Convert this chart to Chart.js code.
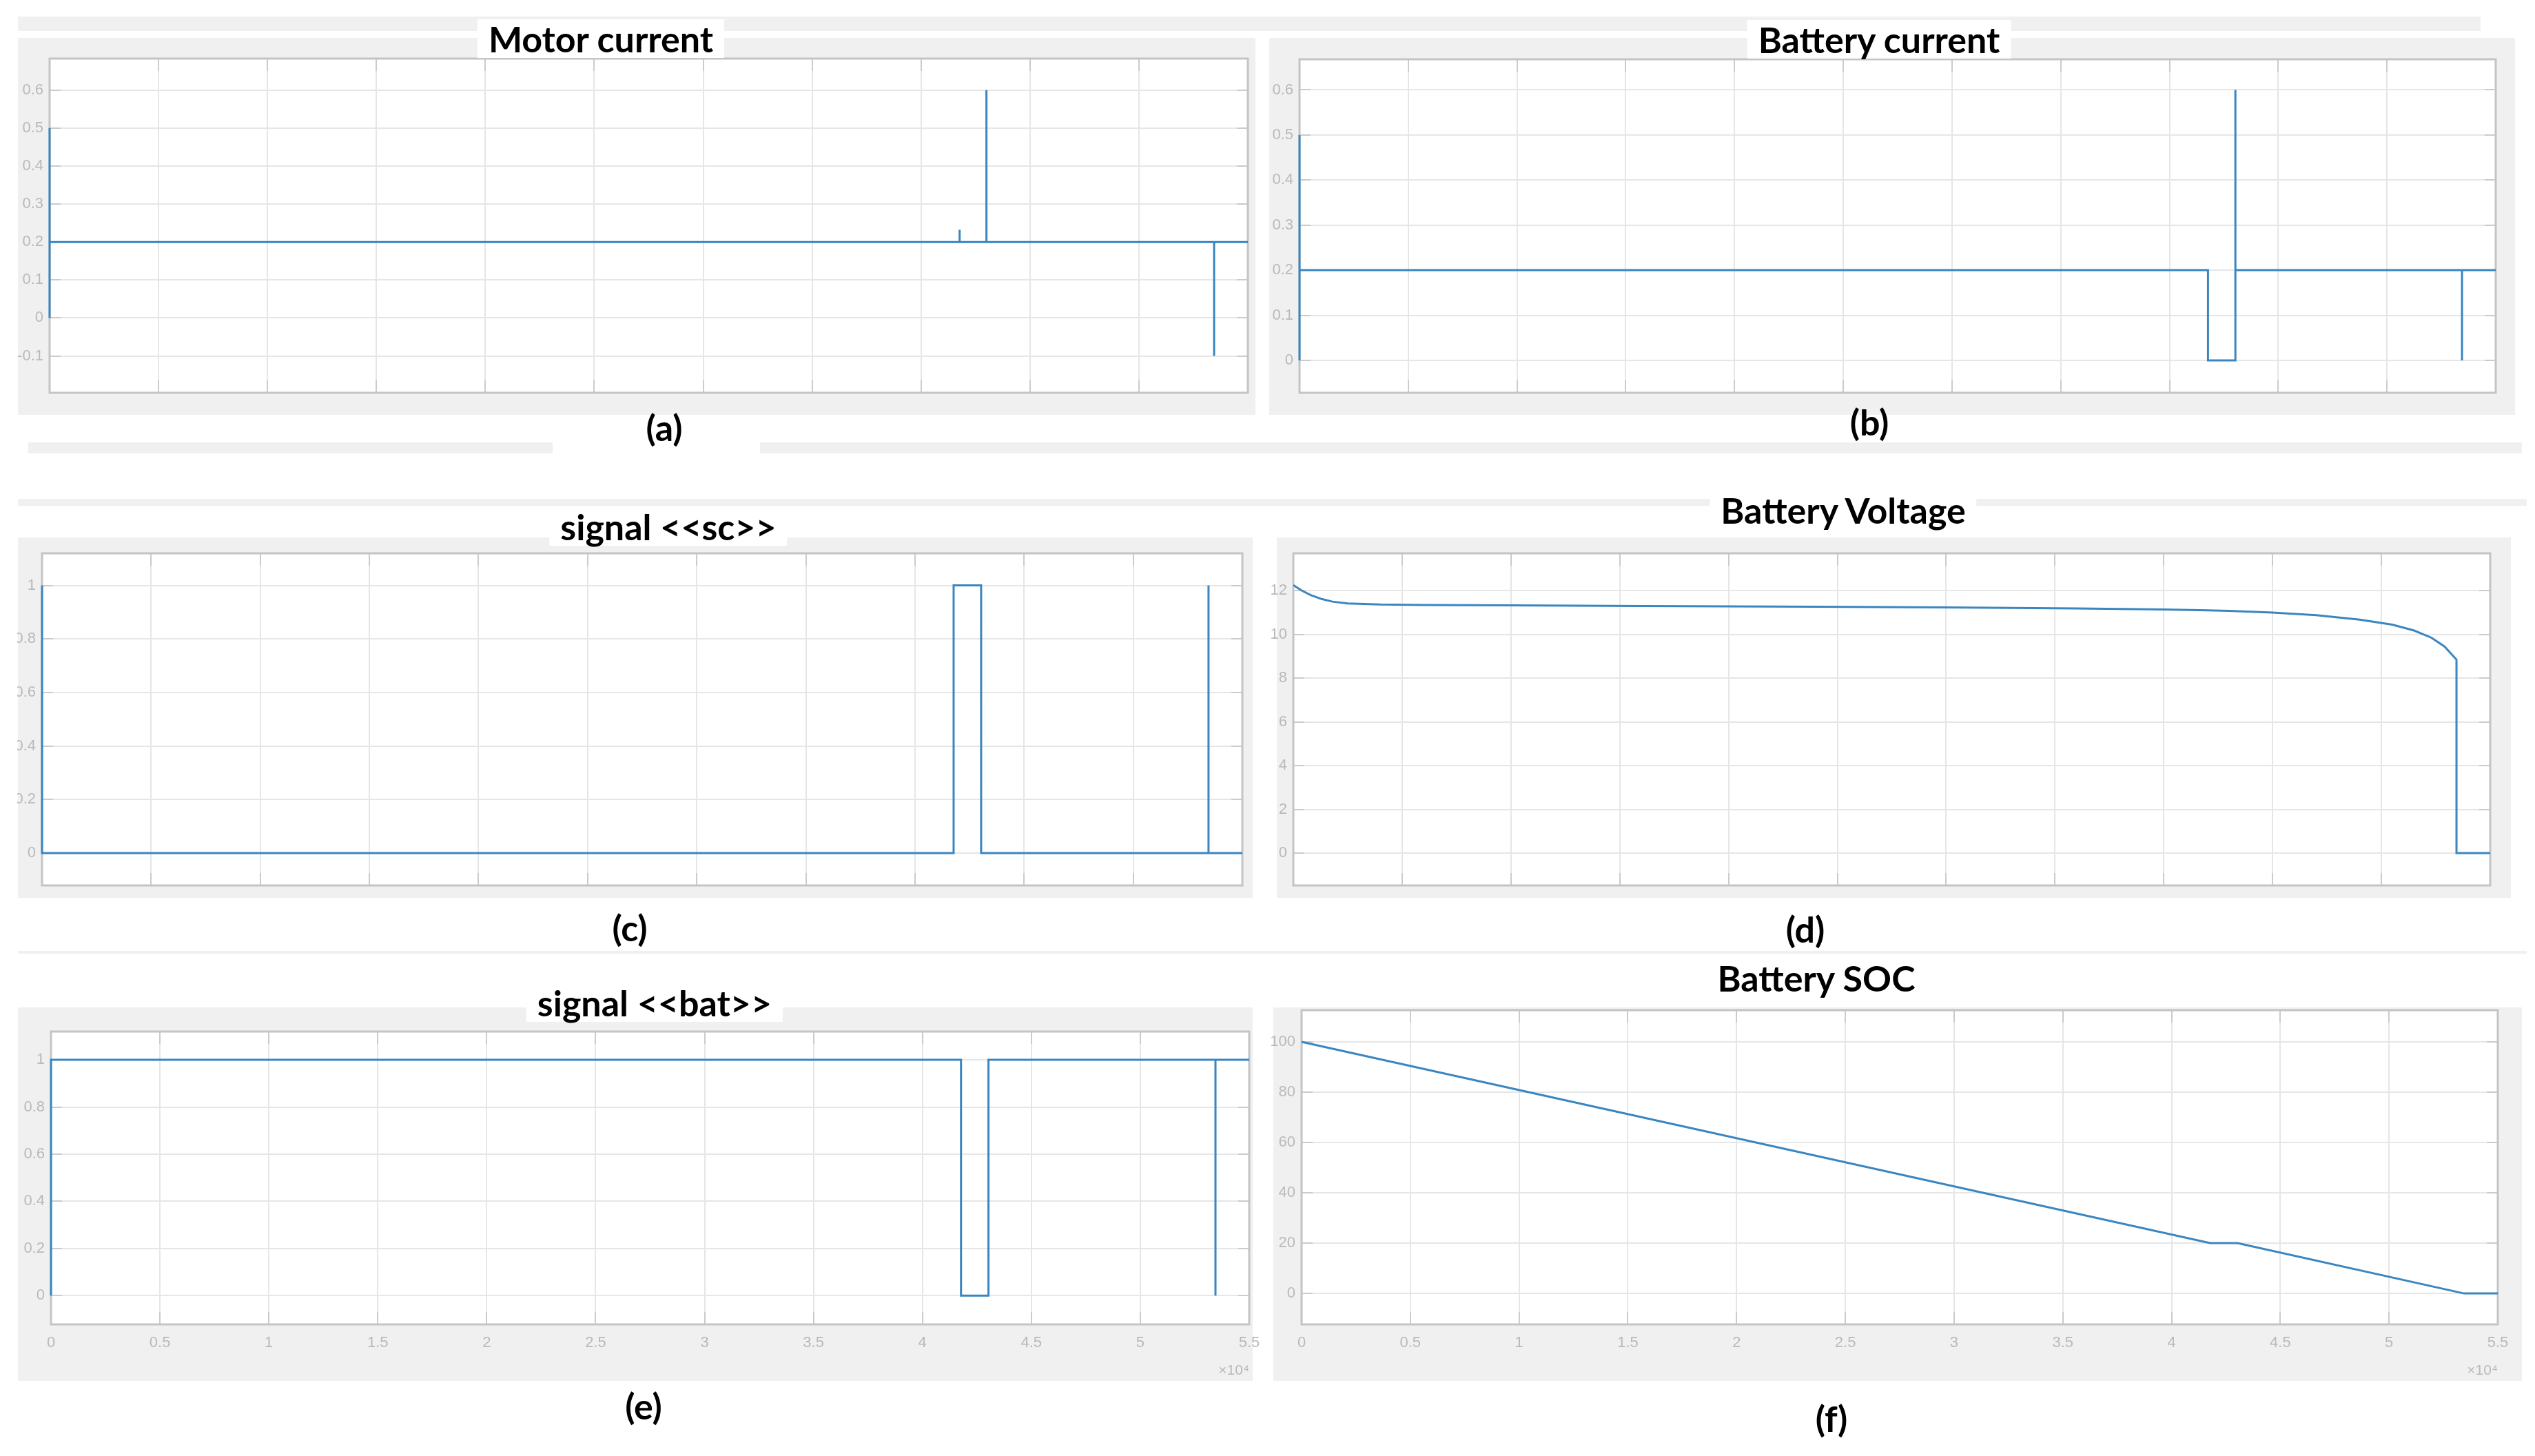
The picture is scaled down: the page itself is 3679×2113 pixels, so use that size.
<!doctype html>
<html>
<head>
<meta charset="utf-8">
<title>Motor and battery signals</title>
<script src="https://cdn.jsdelivr.net/npm/chart.js@4.4.0/dist/chart.umd.min.js"></script>
<style>
  body { margin: 0; background: #fff; }
  #page { position: relative; width: 3679px; height: 2113px; overflow: hidden; background: #fff; }
  .grey { position: absolute; background: #f0f0f0; }
  .white { position: absolute; background: #fff; }
  .ttl, .lbl { position: absolute; font-family: Lato, "Open Sans", sans-serif; font-weight: bold; font-size: 52px; line-height: 1; color: #000; transform: translate(-50%, -50%); white-space: nowrap; }
  .ttl { background: #fff; padding: 2px 16px; }
  canvas { position: absolute; }
</style>
</head>
<body>
<div id="page">
  <!-- grey figure backgrounds and leftover strips from the screenshots -->
  <div class="grey" style="left:26px;top:24px;width:3574px;height:21px"></div>
  <div class="grey" style="left:26px;top:55px;width:1796px;height:547px"></div>
  <div class="grey" style="left:1842px;top:55px;width:1808px;height:547px"></div>
  <div class="grey" style="left:41px;top:642px;width:761px;height:16px"></div>
  <div class="grey" style="left:1103px;top:642px;width:2557px;height:16px"></div>
  <div class="grey" style="left:26px;top:724px;width:3641px;height:10px"></div>
  <div class="grey" style="left:26px;top:780px;width:1792px;height:523px"></div>
  <div class="grey" style="left:1853px;top:780px;width:1791px;height:523px"></div>
  <div class="grey" style="left:26px;top:1380px;width:3641px;height:4px"></div>
  <div class="grey" style="left:26px;top:1462px;width:1792px;height:542px"></div>
  <div class="grey" style="left:1848px;top:1462px;width:1812px;height:542px"></div>

  <canvas id="chartA"></canvas>
  <canvas id="chartB"></canvas>
  <canvas id="chartC"></canvas>
  <canvas id="chartD"></canvas>
  <canvas id="chartE"></canvas>
  <canvas id="chartF"></canvas>

  <!-- the (c) screenshot is cropped on its left edge -->
  <div class="white" style="left:0;top:760px;width:25px;height:560px"></div>

  <div class="ttl" style="left:872px;top:56px">Motor current</div>
  <div class="ttl" style="left:2727px;top:57px">Battery current</div>
  <div class="ttl" style="left:970px;top:764px">signal &lt;&lt;sc&gt;&gt;</div>
  <div class="ttl" style="left:2675px;top:740px">Battery Voltage</div>
  <div class="ttl" style="left:950px;top:1455px">signal &lt;&lt;bat&gt;&gt;</div>
  <div class="ttl" style="left:2636px;top:1419px">Battery SOC</div>

  <div class="lbl" style="left:964px;top:620px">(a)</div>
  <div class="lbl" style="left:2713px;top:612px">(b)</div>
  <div class="lbl" style="left:914px;top:1346px">(c)</div>
  <div class="lbl" style="left:2620px;top:1348px">(d)</div>
  <div class="lbl" style="left:934px;top:2040px">(e)</div>
  <div class="lbl" style="left:2658px;top:2058px">(f)</div>
</div>

<script>
// shared time axis (seconds), labels are in units of 10^4
var timeTicks = [0, 5000, 10000, 15000, 20000, 25000, 30000, 35000, 40000, 45000, 50000, 55000];
var timeTickLabels = ['0', '0.5', '1', '1.5', '2', '2.5', '3', '3.5', '4', '4.5', '5', '5.5'];

// (a) motor current
var motorTime    = [0, 0, 0, 41770, 41770, 41770, 43000, 43000, 43000, 53450, 53450, 53450, 55000];
var motorCurrent = [0, 0.5, 0.2, 0.2, 0.232, 0.2, 0.2, 0.6, 0.2, 0.2, -0.1, 0.2, 0.2];
var motorTicks   = [-0.1, 0, 0.1, 0.2, 0.3, 0.4, 0.5, 0.6];

// (b) battery current
var batCurTime = [0, 0, 0, 41770, 41770, 43030, 43030, 43030, 53450, 53450, 53450, 55000];
var batCurrent = [0, 0.5, 0.2, 0.2, 0, 0, 0.6, 0.2, 0.2, 0, 0.2, 0.2];
var batCurTicks = [0, 0.1, 0.2, 0.3, 0.4, 0.5, 0.6];

// (c) signal <<sc>>
var scTime   = [0, 0, 41770, 41770, 43030, 43030, 53450, 53450, 53450, 55000];
var scSignal = [1, 0, 0, 1, 1, 0, 0, 1, 0, 0];
var signalTicks = [0, 0.2, 0.4, 0.6, 0.8, 1];

// (d) battery voltage
var voltTime  = [0, 400, 800, 1300, 1800, 2500, 4000, 6000, 10000, 16000, 24000, 30000, 36000, 40000, 42000, 43000, 45000, 47000, 49000, 50500, 51500, 52300, 52900, 53450, 53450, 55000];
var voltValue = [12.25, 12.0, 11.8, 11.62, 11.5, 11.42, 11.37, 11.35, 11.33, 11.3, 11.27, 11.24, 11.19, 11.14, 11.1, 11.08, 11.0, 10.88, 10.68, 10.45, 10.18, 9.85, 9.45, 8.85, 0, 0];
var voltTicks = [0, 2, 4, 6, 8, 10, 12];

// (e) signal <<bat>>
var batSigTime = [0, 0, 41770, 41770, 43030, 43030, 53450, 53450, 53450, 55000];
var batSignal  = [0, 1, 1, 0, 0, 1, 1, 0, 1, 1];

// (f) battery SOC
var socTime  = [0, 41770, 43030, 53450, 55000];
var socValue = [100, 20, 20, 0, 0];
var socTicks = [0, 20, 40, 60, 80, 100];

var lineColor = '#3a86c0';
var gridColor = '#e6e6e6';
var tickColor = '#b9b9b9';
var tickFont = { family: 'Liberation Sans', size: 22 };

// white plot box, MATLAB style frame and inner tick marks
var framePlugin = {
  id: 'frame',
  beforeDraw: function(chart) {
    var a = chart.chartArea, ctx = chart.ctx;
    ctx.save();
    ctx.fillStyle = '#fff';
    ctx.fillRect(a.left, a.top, a.right - a.left, a.bottom - a.top);
    ctx.restore();
  },
  beforeDatasetsDraw: function(chart) {
    var a = chart.chartArea, ctx = chart.ctx;
    var xs = chart.scales.x, ys = chart.scales.y;
    ctx.save();
    ctx.strokeStyle = '#cbcbcb';
    ctx.lineWidth = 2;
    ctx.beginPath();
    ys.ticks.forEach(function(t) {
      var y = Math.round(ys.getPixelForValue(t.value));
      ctx.moveTo(a.left, y); ctx.lineTo(a.left + 16, y);
      ctx.moveTo(a.right, y); ctx.lineTo(a.right - 16, y);
    });
    xs.ticks.forEach(function(t) {
      var x = Math.round(xs.getPixelForValue(t.value));
      ctx.moveTo(x, a.bottom); ctx.lineTo(x, a.bottom - 18);
      ctx.moveTo(x, a.top); ctx.lineTo(x, a.top + 18);
    });
    ctx.stroke();
    ctx.strokeStyle = '#c4c4c4';
    ctx.lineWidth = 3;
    ctx.strokeRect(a.left, a.top, a.right - a.left, a.bottom - a.top);
    ctx.restore();
  }
};

function drawPanel(id, box, yMin, yMax, yTicks, time, values, showX) {
  // the y scale reserves half a label plus its padding above and below the plot,
  // so keep the outer padding larger than that and the plot box lands where asked
  var padTop = 26, padRight = 40, yW = 72, xH = showX ? 92 : 26;
  var canvas = document.getElementById(id);
  canvas.width = (box.r - box.l) + yW + padRight;
  canvas.height = (box.b - box.t) + padTop + xH;
  canvas.style.left = (box.l - yW) + 'px';
  canvas.style.top = (box.t - padTop) + 'px';

  var points = time.map(function(t, i) { return { x: t, y: values[i] }; });

  return new Chart(canvas, {
    type: 'line',
    data: {
      datasets: [{
        data: points,
        borderColor: lineColor,
        borderWidth: 3,
        pointRadius: 0,
        tension: 0,
        clip: false
      }]
    },
    options: {
      responsive: false,
      animation: false,
      devicePixelRatio: 1,
      layout: { padding: { top: padTop, right: padRight, left: 0, bottom: 0 } },
      plugins: { legend: { display: false }, tooltip: { enabled: false } },
      scales: {
        x: {
          type: 'linear',
          min: 0,
          max: 55000,
          afterBuildTicks: function(s) { s.ticks = timeTicks.map(function(v) { return { value: v }; }); },
          afterFit: function(s) { s.height = xH; },
          grid: { color: gridColor, lineWidth: 2, drawTicks: false },
          border: { display: false },
          ticks: {
            display: showX, autoSkip: false, maxRotation: 0, padding: 14,
            color: tickColor, font: tickFont,
            callback: function(v, i) { return timeTickLabels[i]; }
          },
          title: {
            display: showX, text: '×10⁴', align: 'end', color: tickColor,
            font: { family: 'Liberation Sans', size: 21 }, padding: { top: 0, bottom: 12 }
          }
        },
        y: {
          min: yMin,
          max: yMax,
          afterBuildTicks: function(s) { s.ticks = yTicks.map(function(v) { return { value: v }; }); },
          afterFit: function(s) { s.width = yW; },
          grid: { color: gridColor, lineWidth: 2, drawTicks: false },
          border: { display: false },
          ticks: {
            padding: 9, color: tickColor, font: tickFont,
            callback: function(v) { return String(v); }
          }
        }
      }
    },
    plugins: [framePlugin]
  });
}

drawPanel('chartA', { l: 72, r: 1811, t: 85, b: 570 }, -0.197, 0.683, motorTicks, motorTime, motorCurrent, false);
drawPanel('chartB', { l: 1886, r: 3622, t: 86, b: 570 }, -0.072, 0.668, batCurTicks, batCurTime, batCurrent, false);
drawPanel('chartC', { l: 61, r: 1803, t: 803, b: 1285 }, -0.121, 1.12, signalTicks, scTime, scSignal, false);
drawPanel('chartD', { l: 1877, r: 3614, t: 803, b: 1285 }, -1.48, 13.71, voltTicks, voltTime, voltValue, false);
drawPanel('chartE', { l: 74, r: 1813, t: 1497, b: 1922 }, -0.122, 1.12, signalTicks, batSigTime, batSignal, true);
drawPanel('chartF', { l: 1889, r: 3625, t: 1466, b: 1922 }, -12.3, 112.6, socTicks, socTime, socValue, true);
</script>
</body>
</html>
